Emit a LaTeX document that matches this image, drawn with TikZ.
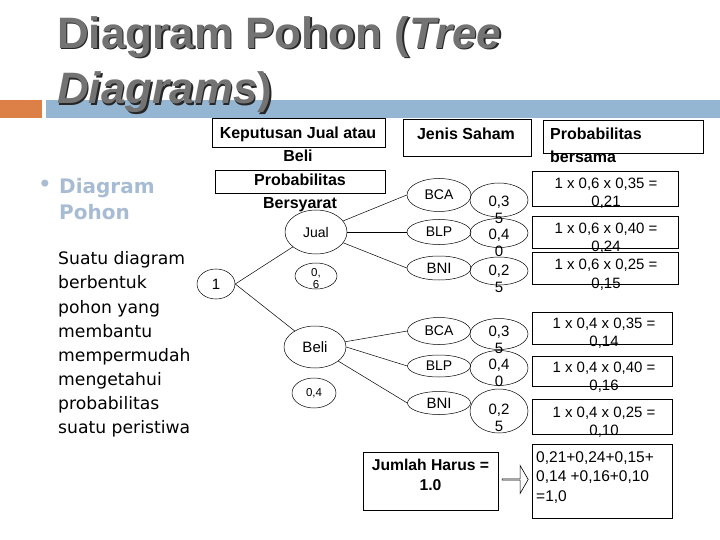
\documentclass[tikz,border=0pt]{standalone}
\usepackage{fontspec}
\setmainfont{Liberation Sans}
\newfontfamily\bodyfont{DejaVu Sans}
\usepackage{xcolor}
\usetikzlibrary{shapes.geometric,shapes.arrows,positioning}
\definecolor{barorange}{HTML}{DD8047}
\definecolor{barblue}{HTML}{94B6D2}
\definecolor{subblue}{HTML}{A7BCD2}
\tikzset{
  titletxt/.style={font=\bfseries\fontsize{44}{50}\selectfont, inner sep=0, anchor=base west},
  hdrbox/.style={rectangle, draw=black, line width=0.9pt, inner sep=0},
  hdrtxt/.style={font=\bfseries\fontsize{16}{23}\selectfont, align=center, inner sep=0},
  oval/.style={ellipse, draw=black, line width=0.5pt, inner sep=0, font=\fontsize{14}{17}\selectfont},
  ovtxt/.style={font=\fontsize{15}{17}\selectfont, align=center, inner sep=0},
  smalltxt/.style={font=\fontsize{11.5}{12}\selectfont, align=center, inner sep=0},
  probbox/.style={rectangle, draw=black, line width=0.8pt, inner sep=0},
  probtxt/.style={font=\fontsize{15}{18.5}\selectfont, align=center, inner sep=0},
  branch/.style={draw=black, line width=0.5pt},
}

\begin{document}
\begin{tikzpicture}[x=1pt, y=-1pt]
  \useasboundingbox (0,0) rectangle (720,540);
  % title bar
  \fill[barorange] (0,100) rectangle (42,118);
  \fill[barblue] (46,100) rectangle (720,118);
  \node[titletxt, text=black!85] (t1s) at (58.5,50) {Diagram Pohon (\textit{Tree}};
  \node[titletxt, text=black!55] (t1) at (57,48.5) {Diagram Pohon (\textit{Tree}};
  \node[titletxt, text=black!85] (t2s) at (58.5,105.5) {\textit{Diagrams})};
  \node[titletxt, text=black!55] (t2) at (57,104) {\textit{Diagrams})};

  % left text
  \node[text=subblue, font=\bodyfont\fontsize{24}{26}\selectfont, inner sep=0] (bul) at (45,186) {•};
  \node[text=subblue, font=\bodyfont\bfseries\fontsize{20}{26}\selectfont, align=left, inner sep=0, anchor=west] (sub) at (59,199) {Diagram\\Pohon};
  \node[font=\bodyfont\fontsize{17.2}{24.1}\selectfont, align=left, inner sep=0, anchor=west] (desc) at (58,344.5)
    {Suatu diagram\\berbentuk\\pohon yang\\membantu\\mempermudah\\mengetahui\\probabilitas\\suatu peristiwa};

  % column headers
  \node[hdrbox, minimum width=173, minimum height=29] (kep) at (298.5,132.5) {};
  \node[hdrtxt] (keptxt) at (298,144.5) {Keputusan Jual atau\\Beli};
  \node[hdrbox, minimum width=170, minimum height=23] (bsy) at (300,181.5) {};
  \node[hdrtxt] (bsytxt) at (300,193) {Probabilitas\\Bersyarat};
  \node[hdrbox, minimum width=128, minimum height=37] (jen) at (467,137.5) {};
  \node[hdrtxt] (jentxt) at (466,134) {Jenis Saham};
  \node[hdrbox, minimum width=160, minimum height=33] (bsm) at (623,136.5) {};
  \node[hdrtxt, align=left, anchor=west] (bsmtxt) at (550,145.5) {Probabilitas\\bersama};

  % tree
  \node[oval, minimum width=38, minimum height=30, font=\fontsize{15}{17}\selectfont] (one) at (216,284) {1};
  \node[oval, minimum width=62, minimum height=44] (jual) at (316,232) {Jual};
  \node[oval, minimum width=42, minimum height=26] (pj) at (316,276) {};
  \node[smalltxt] (pjtxt) at (316,279) {0,\\6};
  \node[oval, minimum width=62, minimum height=42, font=\fontsize{15}{17}\selectfont] (beli) at (315,347) {Beli};
  \node[oval, minimum width=44, minimum height=30] (pb) at (314,393) {};
  \node[smalltxt] (pbtxt) at (314,393) {0,4};

  \node[oval, minimum width=64, minimum height=33] (bca1) at (439,195) {BCA};
  \node[oval, minimum width=64, minimum height=25] (blp1) at (439,232) {BLP};
  \node[oval, minimum width=64, minimum height=24, font=\fontsize{15}{17}\selectfont] (bni1) at (439,268) {BNI};
  \node[oval, minimum width=58, minimum height=34] (p1) at (499,200) {};
  \node[oval, minimum width=58, minimum height=29] (p2) at (499,233) {};
  \node[oval, minimum width=58, minimum height=28] (p3) at (499,271) {};
  \node[ovtxt] (p1txt) at (499,209.5) {0,3\\5};
  \node[ovtxt] (p2txt) at (499,242.5) {0,4\\0};
  \node[ovtxt] (p3txt) at (499,278.5) {0,2\\5};

  \node[oval, minimum width=63, minimum height=27] (bca2) at (439,331) {BCA};
  \node[oval, minimum width=63, minimum height=22] (blp2) at (439,366) {BLP};
  \node[oval, minimum width=63, minimum height=23, font=\fontsize{15}{17}\selectfont] (bni2) at (439,403) {BNI};
  \node[oval, minimum width=58, minimum height=31] (p4) at (499,334) {};
  \node[oval, minimum width=58, minimum height=35] (p5) at (499,368) {};
  \node[oval, minimum width=58, minimum height=44] (p6) at (499,411) {};
  \node[ovtxt] (p4txt) at (499,340) {0,3\\5};
  \node[ovtxt] (p5txt) at (499,372.5) {0,4\\0};
  \node[ovtxt] (p6txt) at (499,417.5) {0,2\\5};

  \draw[branch] (one.east) -- (jual);
  \draw[branch] (one.east) -- (beli);
  \draw[branch] (jual) -- (bca1.west);
  \draw[branch] (jual.east) -- (blp1.west);
  \draw[branch] (jual) -- (bni1.west);
  \draw[branch] (beli) -- (bca2.west);
  \draw[branch] (beli.east) -- (blp2.west);
  \draw[branch] (beli) -- (bni2.west);

  % joint probabilities
  \node[probbox, minimum width=146, minimum height=35] (pr1) at (605,188.5) {};
  \node[probbox, minimum width=146, minimum height=32] (pr2) at (605,232) {};
  \node[probbox, minimum width=146, minimum height=32] (pr3) at (605,268) {};
  \node[probbox, minimum width=140, minimum height=32] (pr4) at (602,328) {};
  \node[probbox, minimum width=140, minimum height=30] (pr5) at (602,371) {};
  \node[probbox, minimum width=140, minimum height=35] (pr6) at (602,416.5) {};
  \node[probtxt] (pr1txt) at (606,193) {1 x 0,6 x 0,35 =\\0,21};
  \node[probtxt] (pr2txt) at (606,238) {1 x 0,6 x 0,40 =\\0,24};
  \node[probtxt] (pr3txt) at (606,274.5) {1 x 0,6 x 0,25 =\\0,15};
  \node[probtxt] (pr4txt) at (604,333) {1 x 0,4 x 0,35 =\\0,14};
  \node[probtxt] (pr5txt) at (604,377) {1 x 0,4 x 0,40 =\\0,16};
  \node[probtxt] (pr6txt) at (604,422) {1 x 0,4 x 0,25 =\\0,10};

  % total
  \node[probbox, minimum width=140, minimum height=74] (sum) at (602,481) {};
  \node[font=\fontsize{15.5}{19.5}\selectfont, align=left, inner sep=0, anchor=west] (sumtxt) at (536,477.5)
    {0,21+0,24+0,15+\\0,14 +0,16+0,10\\=1,0};
  \node[hdrbox, minimum width=135, minimum height=58] (jml) at (430.5,481) {};
  \node[hdrtxt, font=\bfseries\fontsize{15.7}{20}\selectfont] (jmltxt) at (430.5,475) {Jumlah Harus =\\1.0};
  \node[single arrow, draw=black, line width=0.6pt, inner sep=0, minimum height=26, minimum width=28,
        single arrow head extend=6.5, single arrow tip angle=120] (arr) at (515,479.5) {};
\end{tikzpicture}
\end{document}
